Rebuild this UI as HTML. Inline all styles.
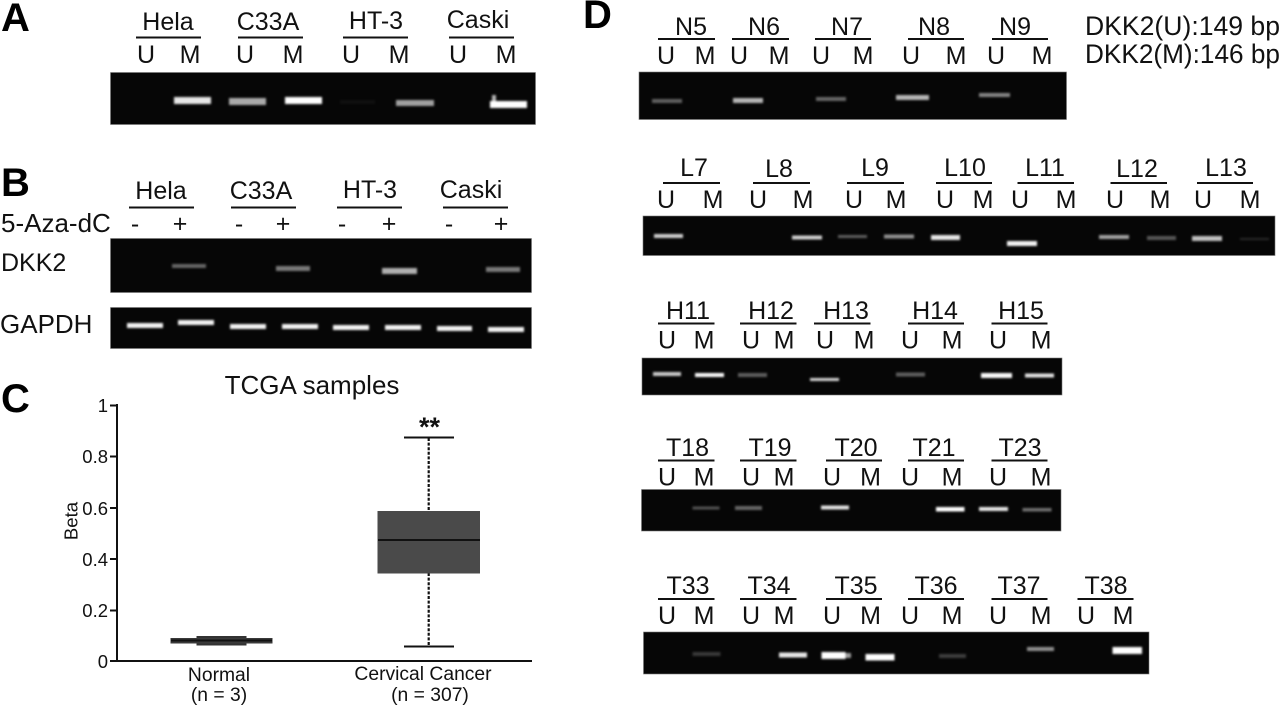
<!DOCTYPE html>
<html><head><meta charset="utf-8"><style>
html,body{margin:0;padding:0;background:#fff}
svg{display:block}
text{font-family:"Liberation Sans",sans-serif;fill:#111}
.l{font-size:25px;text-anchor:middle}
.p{font-size:40px;font-weight:bold;fill:#000}
.t{font-size:18.500px;text-anchor:end}
.x{font-size:19.300px;text-anchor:middle}
.g{fill:#060606;stroke:#777;stroke-width:.6}
.u{stroke:#111;stroke-width:2;fill:none}
.b{fill:#fff}
</style></head><body>
<svg width="1280" height="705" viewBox="0 0 1280 705" xmlns="http://www.w3.org/2000/svg">
<defs><filter id="f" x="-20%" y="-120%" width="140%" height="340%"><feGaussianBlur stdDeviation="1.15"/></filter></defs>
<rect width="1280" height="705" fill="#fff"/>

<!-- Panel A -->
<text x="1" y="31" class="p">A</text>
<text x="168" y="30" class="l">Hela</text><text x="268" y="30" class="l">C33A</text><text x="376" y="29" class="l">HT-3</text><text x="478" y="28" class="l">Caski</text>
<text x="146" y="63" class="l">U</text><text x="190" y="63" class="l">M</text><text x="245" y="63" class="l">U</text><text x="293" y="63" class="l">M</text><text x="351" y="63" class="l">U</text><text x="399" y="63" class="l">M</text><text x="458" y="63" class="l">U</text><text x="506" y="63" class="l">M</text>
<path class="u" d="M136 37.500H201M238 37.500H303M343 37.500H408M449 37.500H514"/>
<rect class="g" x="110.500" y="72.500" width="425" height="52"/>
<g filter="url(#f)">
<rect class="b" x="174" y="97" width="37" height="7" opacity=".9"/>
<rect class="b" x="229" y="98" width="37" height="7" opacity=".66"/>
<rect class="b" x="285" y="97" width="37" height="7" opacity="1"/>
<rect class="b" x="396" y="100" width="38" height="6" opacity=".62"/>
<rect class="b" x="490" y="101" width="37" height="7" opacity="1"/>
<rect class="b" x="492" y="95" width="4" height="8" opacity=".7"/>
<rect class="b" x="340" y="100" width="35" height="4" opacity=".04"/>
</g>

<!-- Panel B -->
<text x="1" y="196" class="p">B</text>
<text x="161" y="199" class="l">Hela</text><text x="261" y="199" class="l">C33A</text><text x="370" y="198" class="l">HT-3</text><text x="471" y="198" class="l">Caski</text>
<path class="u" d="M129 207.500H194M231 207.500H296M337 207.500H402M443 207.500H508"/>
<text x="1" y="232" style="font-size:26px">5-Aza-dC</text>
<text x="135" y="232" class="l">-</text><text x="180" y="232" class="l">+</text><text x="239" y="232" class="l">-</text><text x="283" y="232" class="l">+</text><text x="342" y="232" class="l">-</text><text x="389" y="232" class="l">+</text><text x="449" y="232" class="l">-</text><text x="501" y="232" class="l">+</text>
<text x="1" y="271" style="font-size:25px">DKK2</text>
<text x="0" y="333" style="font-size:26px">GAPDH</text>
<rect class="g" x="110.500" y="238.500" width="421" height="54"/>
<rect class="g" x="110.500" y="307.500" width="421" height="41"/>
<g filter="url(#f)">
<rect class="b" x="172" y="264" width="34" height="4" opacity=".38"/>
<rect class="b" x="276" y="266" width="34" height="5" opacity=".46"/>
<rect class="b" x="382" y="268" width="35" height="6" opacity=".68"/>
<rect class="b" x="486" y="267" width="34" height="5" opacity=".46"/>
<rect class="b" x="127" y="323" width="36" height="5" opacity=".95"/>
<rect class="b" x="178" y="320" width="36" height="5" opacity=".95"/>
<rect class="b" x="230" y="324" width="36" height="5" opacity=".95"/>
<rect class="b" x="282" y="324" width="36" height="5" opacity=".95"/>
<rect class="b" x="333" y="325" width="36" height="5" opacity=".95"/>
<rect class="b" x="385" y="325" width="36" height="5" opacity=".95"/>
<rect class="b" x="437" y="326" width="35" height="5" opacity=".95"/>
<rect class="b" x="488" y="327" width="36" height="5" opacity=".95"/>
</g>

<!-- Panel C -->
<text x="1" y="412" class="p">C</text>
<text x="312" y="394" style="font-size:26px;text-anchor:middle">TCGA samples</text>
<path d="M117 404V662M110 661H532M110 405.500H117M110 456.500H117M110 508H117M110 559H117M110 610.500H117" stroke="#111" stroke-width="2" fill="none"/>
<text x="108" y="412" class="t">1</text><text x="108" y="463" class="t">0.8</text><text x="108" y="515" class="t">0.6</text><text x="108" y="566" class="t">0.4</text><text x="108" y="617" class="t">0.2</text><text x="108" y="668" class="t">0</text>
<text transform="translate(77.500,521) rotate(-90)" style="font-size:18.600px;text-anchor:middle">Beta</text>
<path d="M428.700 438V511M428.700 573V646" stroke="#111" stroke-width="2.200" stroke-dasharray="3 1.600" fill="none"/>
<path d="M404 437.500H454M404 646.500H454" stroke="#111" stroke-width="2" fill="none"/>
<rect x="377.500" y="511" width="102.500" height="62.500" fill="#4a4a4a"/>
<path d="M378 540H480" stroke="#111" stroke-width="2"/>
<text x="429.500" y="436" style="font-size:27px;font-weight:bold;text-anchor:middle">**</text>
<rect x="196.500" y="636" width="50" height="9.500" fill="#333"/>
<rect x="170.500" y="638" width="102" height="5.500" fill="#3a3a3a"/>
<path d="M171 640.500H272" stroke="#111" stroke-width="2"/>
<text x="219" y="681" class="x">Normal</text><text x="219" y="701" class="x">(n = 3)</text>
<text x="423" y="680" class="x">Cervical Cancer</text><text x="430" y="701" class="x">(n = 307)</text>

<!-- Panel D -->
<text x="583" y="28" class="p">D</text>
<text x="1085" y="35" style="font-size:26.500px" textLength="195" lengthAdjust="spacingAndGlyphs">DKK2(U):149 bp</text>
<text x="1085" y="63" style="font-size:26.500px" textLength="195" lengthAdjust="spacingAndGlyphs">DKK2(M):146 bp</text>

<!-- N -->
<text x="691" y="35" class="l">N5</text><text x="764" y="35" class="l">N6</text><text x="847" y="35" class="l">N7</text><text x="934" y="35" class="l">N8</text><text x="1015" y="35" class="l">N9</text>
<path class="u" d="M658 39H715M732 39H789M815 39H871M908 39H964M992 39H1048"/>
<text x="666" y="64" class="l">U</text><text x="705" y="64" class="l">M</text><text x="739" y="64" class="l">U</text><text x="779" y="64" class="l">M</text><text x="821" y="64" class="l">U</text><text x="863" y="64" class="l">M</text><text x="911" y="64" class="l">U</text><text x="956" y="64" class="l">M</text><text x="996" y="64" class="l">U</text><text x="1042" y="64" class="l">M</text>
<rect class="g" x="639" y="72" width="427.500" height="47.500"/>
<g filter="url(#f)">
<rect class="b" x="652" y="99" width="30" height="4" opacity=".36"/>
<rect class="b" x="733" y="98" width="30" height="5" opacity=".7"/>
<rect class="b" x="816" y="97" width="30" height="4" opacity=".38"/>
<rect class="b" x="896" y="95" width="33" height="5" opacity=".7"/>
<rect class="b" x="979" y="93" width="31" height="4" opacity=".5"/>
</g>

<!-- L -->
<text x="694" y="176" class="l">L7</text><text x="779" y="177" class="l">L8</text><text x="875" y="176" class="l">L9</text><text x="965" y="176" class="l">L10</text><text x="1045" y="176" class="l">L11</text><text x="1137" y="177" class="l">L12</text><text x="1226" y="176" class="l">L13</text>
<path class="u" d="M663 183H720M753 183H810M847 183H904M936 183H992M1017.500 183H1074M1110.500 183H1167M1197 183H1253"/>
<text x="666" y="208" class="l">U</text><text x="713" y="208" class="l">M</text><text x="758" y="208" class="l">U</text><text x="803" y="208" class="l">M</text><text x="854" y="208" class="l">U</text><text x="896" y="208" class="l">M</text><text x="945" y="208" class="l">U</text><text x="983" y="208" class="l">M</text><text x="1020" y="208" class="l">U</text><text x="1066" y="208" class="l">M</text><text x="1115" y="208" class="l">U</text><text x="1160" y="208" class="l">M</text><text x="1203" y="208" class="l">U</text><text x="1250" y="208" class="l">M</text>
<rect class="g" x="643" y="216" width="632" height="39.500"/>
<g filter="url(#f)">
<rect class="b" x="654" y="234" width="29" height="4" opacity=".8"/>
<rect class="b" x="792" y="235.500" width="30" height="4" opacity=".8"/>
<rect class="b" x="838" y="235" width="29" height="3" opacity=".35"/>
<rect class="b" x="884" y="234.500" width="30" height="4" opacity=".55"/>
<rect class="b" x="931" y="235" width="29" height="5" opacity=".9"/>
<rect class="b" x="1007" y="241" width="30" height="5" opacity=".95"/>
<rect class="b" x="1099" y="235" width="30" height="4" opacity=".62"/>
<rect class="b" x="1147" y="236" width="29" height="4" opacity=".32"/>
<rect class="b" x="1192" y="236" width="30" height="5" opacity=".75"/>
<rect class="b" x="1240" y="238" width="29" height="2" opacity=".14"/>
</g>

<!-- H -->
<text x="688" y="319" class="l">H11</text><text x="771" y="319" class="l">H12</text><text x="846" y="319" class="l">H13</text><text x="935" y="319" class="l">H14</text><text x="1021" y="319" class="l">H15</text>
<path class="u" d="M658 323.500H714.500M740 323.500H796.500M814 323.500H870.500M908 323.500H964M991.500 323.500H1047.500"/>
<text x="667" y="348.500" class="l">U</text><text x="704" y="348.500" class="l">M</text><text x="751" y="348.500" class="l">U</text><text x="784" y="348.500" class="l">M</text><text x="825" y="348.500" class="l">U</text><text x="864" y="348.500" class="l">M</text><text x="910" y="348.500" class="l">U</text><text x="952" y="348.500" class="l">M</text><text x="998" y="348.500" class="l">U</text><text x="1041" y="348.500" class="l">M</text>
<rect class="g" x="642" y="358" width="420" height="37"/>
<g filter="url(#f)">
<rect class="b" x="653" y="372" width="28" height="4" opacity=".78"/>
<rect class="b" x="695" y="373" width="29" height="4" opacity=".98"/>
<rect class="b" x="738" y="373" width="29" height="4" opacity=".35"/>
<rect class="b" x="810" y="378" width="29" height="3" opacity=".82"/>
<rect class="b" x="896" y="372.500" width="29" height="4" opacity=".35"/>
<rect class="b" x="981" y="373" width="31" height="5" opacity=".98"/>
<rect class="b" x="1025" y="373.500" width="29" height="4" opacity=".88"/>
</g>

<!-- T row 1 -->
<text x="687.500" y="456" class="l">T18</text><text x="770" y="456" class="l">T19</text><text x="856" y="456" class="l">T20</text><text x="934" y="456" class="l">T21</text><text x="1020" y="456" class="l">T23</text>
<path class="u" d="M658 460.500H714.500M740 460.500H796.500M826 460.500H882M908 460.500H964M991.500 460.500H1047.500"/>
<text x="667" y="485.500" class="l">U</text><text x="704" y="485.500" class="l">M</text><text x="751" y="485.500" class="l">U</text><text x="784" y="485.500" class="l">M</text><text x="832" y="485.500" class="l">U</text><text x="870.500" y="485.500" class="l">M</text><text x="910" y="485.500" class="l">U</text><text x="952" y="485.500" class="l">M</text><text x="998" y="485.500" class="l">U</text><text x="1041" y="485.500" class="l">M</text>
<rect class="g" x="641.500" y="489.500" width="419.500" height="41.500"/>
<g filter="url(#f)">
<rect class="b" x="692.500" y="506.500" width="27" height="3" opacity=".3"/>
<rect class="b" x="735" y="506" width="27" height="4" opacity=".38"/>
<rect class="b" x="821" y="505.500" width="28" height="4" opacity=".88"/>
<rect class="b" x="936" y="507" width="28.500" height="4.500" opacity="1"/>
<rect class="b" x="979" y="507" width="29" height="4" opacity=".9"/>
<rect class="b" x="1022.500" y="508" width="29" height="3.500" opacity=".42"/>
</g>

<!-- T row 2 -->
<text x="688" y="594" class="l">T33</text><text x="769" y="594" class="l">T34</text><text x="856" y="594" class="l">T35</text><text x="936" y="594" class="l">T36</text><text x="1019" y="594" class="l">T37</text><text x="1106" y="594" class="l">T38</text>
<path class="u" d="M658 599H714.500M740 599H796.500M826 599H882M908 599H964M991.500 599H1047.500M1077.500 599H1133.500"/>
<text x="667" y="624" class="l">U</text><text x="704" y="624" class="l">M</text><text x="751" y="624" class="l">U</text><text x="784" y="624" class="l">M</text><text x="832" y="624" class="l">U</text><text x="870.500" y="624" class="l">M</text><text x="910" y="624" class="l">U</text><text x="952" y="624" class="l">M</text><text x="998" y="624" class="l">U</text><text x="1041" y="624" class="l">M</text><text x="1086" y="624" class="l">U</text><text x="1123" y="624" class="l">M</text>
<rect class="g" x="643.500" y="632" width="505.500" height="42"/>
<g filter="url(#f)">
<rect class="b" x="692.500" y="652" width="28" height="4" opacity=".2"/>
<rect class="b" x="779" y="652.500" width="28" height="5" opacity=".9"/>
<rect class="b" x="821.500" y="652" width="24" height="7" opacity="1"/>
<rect class="b" x="845" y="653" width="6" height="5" opacity=".6"/>
<rect class="b" x="865.500" y="654" width="29" height="6.500" opacity="1"/>
<rect class="b" x="939" y="654" width="27" height="4" opacity=".22"/>
<rect class="b" x="1027" y="647" width="27" height="4" opacity=".55"/>
<rect class="b" x="1112.500" y="647" width="29.500" height="7" opacity="1"/>
</g>
</svg>
</body></html>
